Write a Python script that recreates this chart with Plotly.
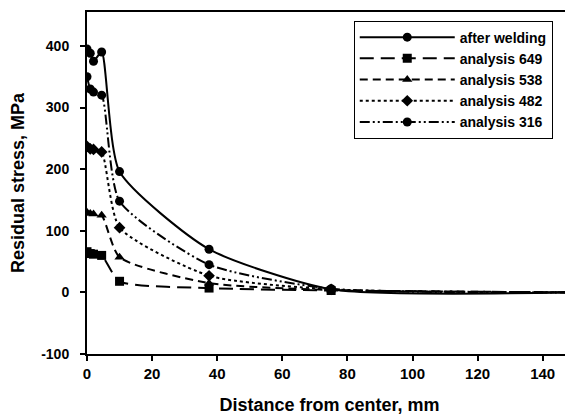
import plotly.graph_objects as go

x_vals = [0, 1, 2, 4.5, 10, 37.5, 75, 150]
after_welding = [395, 388, 375, 390, 196, 70, 5, 0]
analysis_649 = [66, 63, 62, 60, 18, 7, 3, 0]
analysis_538 = [130, 128, 127, 125, 57, 15, 4, 0]
analysis_482 = [237, 233, 232, 228, 105, 27, 5, 0]
analysis_316 = [350, 330, 325, 320, 148, 45, 6, 0]
x_ticks = [0, 20, 40, 60, 80, 100, 120, 140]
y_ticks = [-100, 0, 100, 200, 300, 400]

series = [
    ("after welding", after_welding, "solid", "circle"),
    ("analysis 649", analysis_649, "14px,7px", "square"),
    ("analysis 538", analysis_538, "8px,5px", "triangle-up"),
    ("analysis 482", analysis_482, "3px,3px", "diamond"),
    ("analysis 316", analysis_316, "10px,3px,2px,3px,2px,3px", "circle"),
]

fig = go.Figure()
for name, ys, dash, sym in series:
    fig.add_trace(go.Scatter(
        x=x_vals, y=ys, name=name, mode="lines+markers",
        line=dict(color="black", width=2, dash=dash, shape="spline", smoothing=0.6),
        marker=dict(symbol=sym, size=9, color="black"),
    ))

FAM = "Liberation Sans"
xtick_font = dict(family=FAM, size=15, color="black", weight="bold")
ytick_font = dict(family=FAM, size=14, color="black", weight="bold")
title_font = dict(family=FAM, size=18, color="black", weight="bold")

# page body has an 8px default margin, so the figure is sized/offset to compensate
fig.update_layout(
    width=565, height=412,
    margin=dict(l=79, r=1, t=4, b=66, autoexpand=False),
    paper_bgcolor="white", plot_bgcolor="white",
    font=ytick_font,
    showlegend=True,
    legend=dict(
        x=0.55, y=0.975, xanchor="left", yanchor="top",
        bordercolor="black", borderwidth=1, bgcolor="white",
        font=dict(family=FAM, size=14, color="black", weight="bold"),
        itemwidth=95, tracegroupgap=0,
        entrywidth=205, entrywidthmode="pixels",
    ),
    xaxis=dict(
        range=[0, 149], tickvals=x_ticks,
        showgrid=False, zeroline=False, automargin=False,
        showline=True, linecolor="black", linewidth=2, mirror=True,
        ticks="outside", ticklen=5, tickwidth=1.5, tickcolor="black",
        tickfont=xtick_font,
        title=dict(text="Distance from center, mm", font=title_font, standoff=17),
    ),
    yaxis=dict(
        range=[-100, 455], tickvals=y_ticks,
        ticktext=[str(v) for v in y_ticks],
        showgrid=False, zeroline=False, automargin=False,
        showline=True, linecolor="black", linewidth=2, mirror=True,
        ticks="outside", ticklen=5, tickwidth=1.5, tickcolor="black",
        ticklabelstandoff=8,
        tickfont=ytick_font,
        title=dict(text="Residual stress, MPa", font=title_font, standoff=24),
    ),
)

fig.write_html("out.html")
